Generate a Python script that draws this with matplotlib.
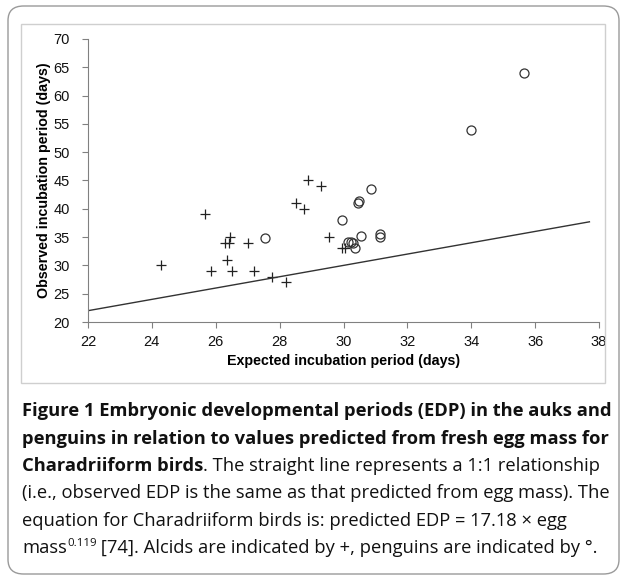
import matplotlib
matplotlib.use('Agg')
import matplotlib.pyplot as plt
from matplotlib.patches import FancyBboxPatch, Rectangle
import numpy as np

# alcids (+)
alcid_expected = [25.65, 28.9, 29.3, 28.5, 28.75, 29.55, 24.3, 25.85, 26.5, 27.2,
                  26.35, 26.3, 26.45, 26.4, 27.0, 27.75, 28.2, 29.95, 30.05]
alcid_observed = [39, 45, 44, 41, 40, 35, 30, 29, 29, 29,
                  31, 34, 35, 34, 34, 28, 27, 33, 33]

# penguins (o)
penguin_expected = [27.55, 29.95, 30.15, 30.25, 30.3, 30.35, 30.55, 30.45, 30.5,
                    30.85, 31.15, 31.15, 34.0, 35.65]
penguin_observed = [34.8, 38, 34.2, 34.2, 33.9, 33.1, 35.2, 41, 41.3,
                    43.5, 35.5, 35.0, 54, 64]

line_x = [22, 37.7]

W, H = 626, 580
fig = plt.figure(figsize=(W / 100, H / 100), dpi=100)

# outer rounded frame and inner chart frame
fig.patches.append(FancyBboxPatch((8 / W, 6 / H), 611 / W, 568 / H,
                                  boxstyle='round,pad=0,rounding_size=0.025',
                                  transform=fig.transFigure, fill=False,
                                  edgecolor='#9a9a9a', linewidth=1.0))
fig.patches.append(Rectangle((21 / W, 1 - 383 / H), 584 / W, 359 / H,
                             transform=fig.transFigure, fill=False,
                             edgecolor='#cfcfcf', linewidth=1.0))

ax = fig.add_axes([88 / W, 1 - 322 / H, 511 / W, 283 / H])
ax.plot(alcid_expected, alcid_observed, linestyle='none', marker='+',
        markersize=7, markeredgewidth=0.9, color='#222222')
ax.plot(penguin_expected, penguin_observed, linestyle='none', marker='o',
        markersize=6.5, markerfacecolor='none', markeredgewidth=0.9,
        markeredgecolor='#333333')
ax.plot(line_x, line_x, color='#333333', linewidth=1.0)

ax.set_xlim(22, 38)
ax.set_ylim(20, 70)
ax.set_xticks(np.arange(22, 39, 2))
ax.set_yticks(np.arange(20, 71, 5))
for s in ['top', 'right']:
    ax.spines[s].set_visible(False)
for s in ['left', 'bottom']:
    ax.spines[s].set_color('#808080')
ax.tick_params(direction='out', length=4, color='#808080', labelsize=10.5,
               labelcolor='#111111')
ax.tick_params(axis='y', pad=9)
ax.tick_params(axis='x', pad=5)
for lab in ax.get_xticklabels() + ax.get_yticklabels():
    lab.set_family('Liberation Sans')
ax.set_xlabel('Expected incubation period (days)', fontsize=10.3,
              fontweight='bold', family='Liberation Sans', labelpad=4)
ax.set_ylabel('Observed incubation period (days)', fontsize=10.3,
              fontweight='bold', family='Liberation Sans', labelpad=2)

# caption
cap_font = 'Open Sans'
x0 = 22 / W
lines = [
    [('Figure 1 Embryonic developmental periods (EDP) in the auks and', 'bold', 1, 0)],
    [('penguins in relation to values predicted from fresh egg mass for', 'bold', 1, 0)],
    [('Charadriiform birds', 'bold', 1, 0),
     ('. The straight line represents a 1:1 relationship', 'normal', 1, 0)],
    [('(i.e., observed EDP is the same as that predicted from egg mass). The', 'normal', 1, 0)],
    [('equation for Charadriiform birds is: predicted EDP = 17.18 \u00d7 egg', 'normal', 1, 0)],
    [('mass', 'normal', 1, 0), ('0.119', 'normal', 0.62, 7),
     (' [74]. Alcids are indicated by +, penguins are indicated by \u00b0.', 'normal', 1, 0)],
]
ys = [416, 443.5, 471, 498.5, 526, 553]

fig.canvas.draw()
r = fig.canvas.get_renderer()
# fit first line to the caption width
probe = fig.text(0, 0, lines[0][0][0], fontsize=10, fontweight='bold', family=cap_font)
pw = probe.get_window_extent(renderer=r).width
probe.remove()
fs = 10 * 588 / pw

for parts, y in zip(lines, ys):
    x = x0
    for txt, wt, k, dy in parts:
        t = fig.text(x, 1 - (y - dy) / H, txt, fontsize=fs * k, fontweight=wt,
                     family=cap_font, color='#111111', va='baseline')
        bb = t.get_window_extent(renderer=r)
        x = bb.x1 / W

fig.savefig('out.png', dpi=100)
